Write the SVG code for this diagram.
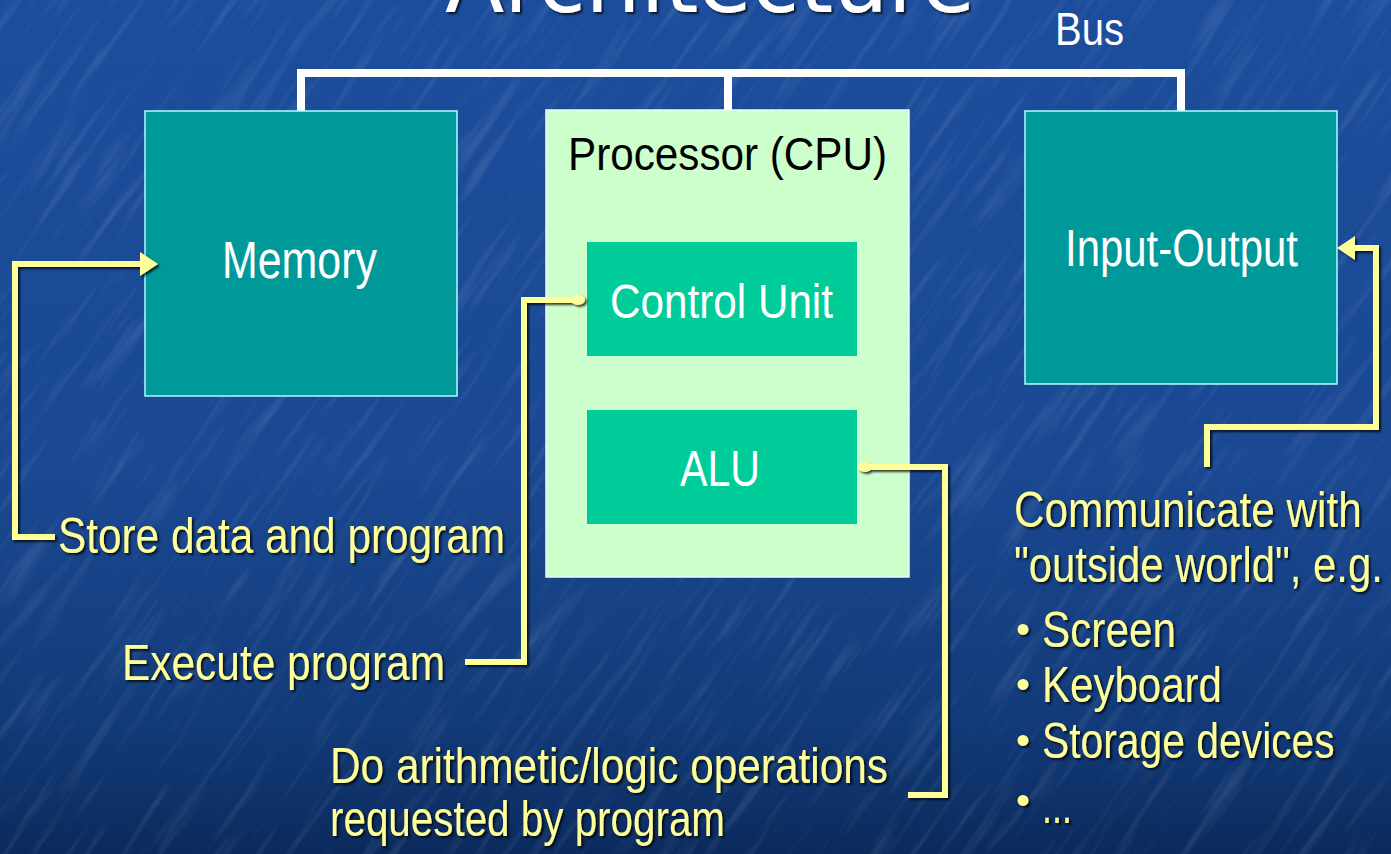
<svg xmlns="http://www.w3.org/2000/svg" width="1391" height="854" viewBox="0 0 1391 854">
<defs>
<linearGradient id="bg" x1="0" y1="0" x2="0" y2="1">
<stop offset="0" stop-color="#1c4d9c"/>
<stop offset="0.55" stop-color="#1a4892"/>
<stop offset="0.85" stop-color="#123a78"/>
<stop offset="1" stop-color="#0b2a5c"/>
</linearGradient>
<filter id="tex" x="0" y="0" width="100%" height="100%">
<feTurbulence type="fractalNoise" baseFrequency="0.008 0.09" numOctaves="3" seed="7"/>
<feColorMatrix type="matrix" values="0 0 0 0 0.75  0 0 0 0 0.85  0 0 0 0 1  0 0 0 1.6 -0.85"/>
</filter>
<filter id="sh" x="-10%" y="-10%" width="130%" height="140%">
<feDropShadow dx="2" dy="2" stdDeviation="1" flood-color="#000" flood-opacity="0.75"/>
</filter>
<marker id="tri" viewBox="0 0 18 24" refX="5" refY="12" markerWidth="18" markerHeight="24" markerUnits="userSpaceOnUse" orient="auto">
<path d="M0,0 L18,12 L0,24 Z" fill="#ffff99"/>
</marker>
<marker id="dot" viewBox="0 0 14 12" refX="4" refY="6" markerWidth="14" markerHeight="12" markerUnits="userSpaceOnUse" orient="auto">
<ellipse cx="7" cy="6" rx="7" ry="5" fill="#ffff99"/>
</marker>
<style>
.lbl{font-family:"Liberation Sans",Arial,sans-serif;}
.white{fill:#ffffff;}
.yel{fill:#ffff99;font-family:"Liberation Sans",Arial,sans-serif;font-size:50px;}
.bul{fill:#ffff99;font-family:"Liberation Sans",Arial,sans-serif;font-size:40px;}
.tealbox{fill:#009999;stroke:#aaffff;stroke-width:1.5;}
.cpubox{fill:#ccffcc;stroke:#e6fff0;stroke-width:1.5;}
.unit{fill:#00cc99;}
.conn{fill:none;stroke:#ffff99;stroke-width:6;}
.bus{fill:none;stroke:#ffffff;stroke-width:8;}
</style>
</defs>

<rect width="1391" height="854" fill="url(#bg)"/>
<g transform="rotate(-55 695 427)" opacity="0.2">
<rect x="-400" y="-400" width="2200" height="1700" filter="url(#tex)"/>
</g>

<text x="445" y="12" font-family="DejaVu Sans, Verdana, sans-serif" font-size="86" fill="#ffffff" textLength="530" lengthAdjust="spacingAndGlyphs" filter="url(#sh)">Architecture</text>

<g id="bus">
<path class="bus" d="M301,111 V73 H1181 V111 M728,73 V111"/>
<text class="lbl white" x="1055" y="45" font-size="46" textLength="69" lengthAdjust="spacingAndGlyphs">Bus</text>
</g>

<g id="memory">
<rect class="tealbox" x="145" y="111" width="312" height="285"/>
<text class="lbl white" x="222" y="278" font-size="51" textLength="155" lengthAdjust="spacingAndGlyphs">Memory</text>
</g>

<g id="cpu">
<rect class="cpubox" x="546" y="110" width="363" height="467"/>
<text class="lbl" x="568" y="170" font-size="46" fill="#000" textLength="319" lengthAdjust="spacingAndGlyphs">Processor (CPU)</text>
</g>

<g id="control-unit">
<rect class="unit" x="587" y="242" width="270" height="114"/>
<text class="lbl white" x="610" y="318" font-size="49" textLength="223" lengthAdjust="spacingAndGlyphs">Control Unit</text>
</g>

<g id="alu">
<rect class="unit" x="587" y="410" width="270" height="114"/>
<text class="lbl white" x="680" y="486" font-size="50" textLength="80" lengthAdjust="spacingAndGlyphs">ALU</text>
</g>

<g id="io">
<rect class="tealbox" x="1025" y="111" width="312" height="273"/>
<text class="lbl white" x="1065" y="266" font-size="51" textLength="233" lengthAdjust="spacingAndGlyphs">Input-Output</text>
</g>

<g id="connectors" filter="url(#sh)">
<path class="conn" d="M55,537 H15 V264 H145" marker-end="url(#tri)"/>
<path class="conn" d="M465,662 H524 V300 H575" marker-end="url(#dot)"/>
<path class="conn" d="M908,795 H945 V467 H868" marker-end="url(#dot)"/>
<path class="conn" d="M1207,467 V427 H1376 V248 H1350" marker-end="url(#tri)"/>
</g>

<g id="labels" filter="url(#sh)">
<text class="yel" x="58" y="553" textLength="447" lengthAdjust="spacingAndGlyphs">Store data and program</text>
<text class="yel" x="122" y="680" textLength="323" lengthAdjust="spacingAndGlyphs">Execute program</text>
<text class="yel" x="330" y="783" textLength="558" lengthAdjust="spacingAndGlyphs">Do arithmetic/logic operations</text>
<text class="yel" x="330" y="836" textLength="395" lengthAdjust="spacingAndGlyphs">requested by program</text>
<text class="yel" transform="translate(1014,527) scale(0.84,1)" x="0" y="0" textLength="414" lengthAdjust="spacingAndGlyphs">Communicate with</text>
<text class="yel" transform="translate(1014,582) scale(0.84,1)" x="0" y="0" textLength="439" lengthAdjust="spacingAndGlyphs">"outside world", e.g.</text>
<text class="bul" x="1016" y="643">•</text>
<text class="yel" x="1042" y="647" textLength="134" lengthAdjust="spacingAndGlyphs">Screen</text>
<text class="bul" x="1016" y="698">•</text>
<text class="yel" x="1042" y="702" textLength="180" lengthAdjust="spacingAndGlyphs">Keyboard</text>
<text class="bul" x="1016" y="754">•</text>
<text class="yel" transform="translate(1042,758) scale(0.82,1)" x="0" y="0" textLength="357" lengthAdjust="spacingAndGlyphs">Storage devices</text>
<text class="bul" x="1016" y="814">•</text>
<text class="yel" x="1042" y="823" font-size="28" textLength="30" lengthAdjust="spacingAndGlyphs">...</text>
</g>
</svg>
